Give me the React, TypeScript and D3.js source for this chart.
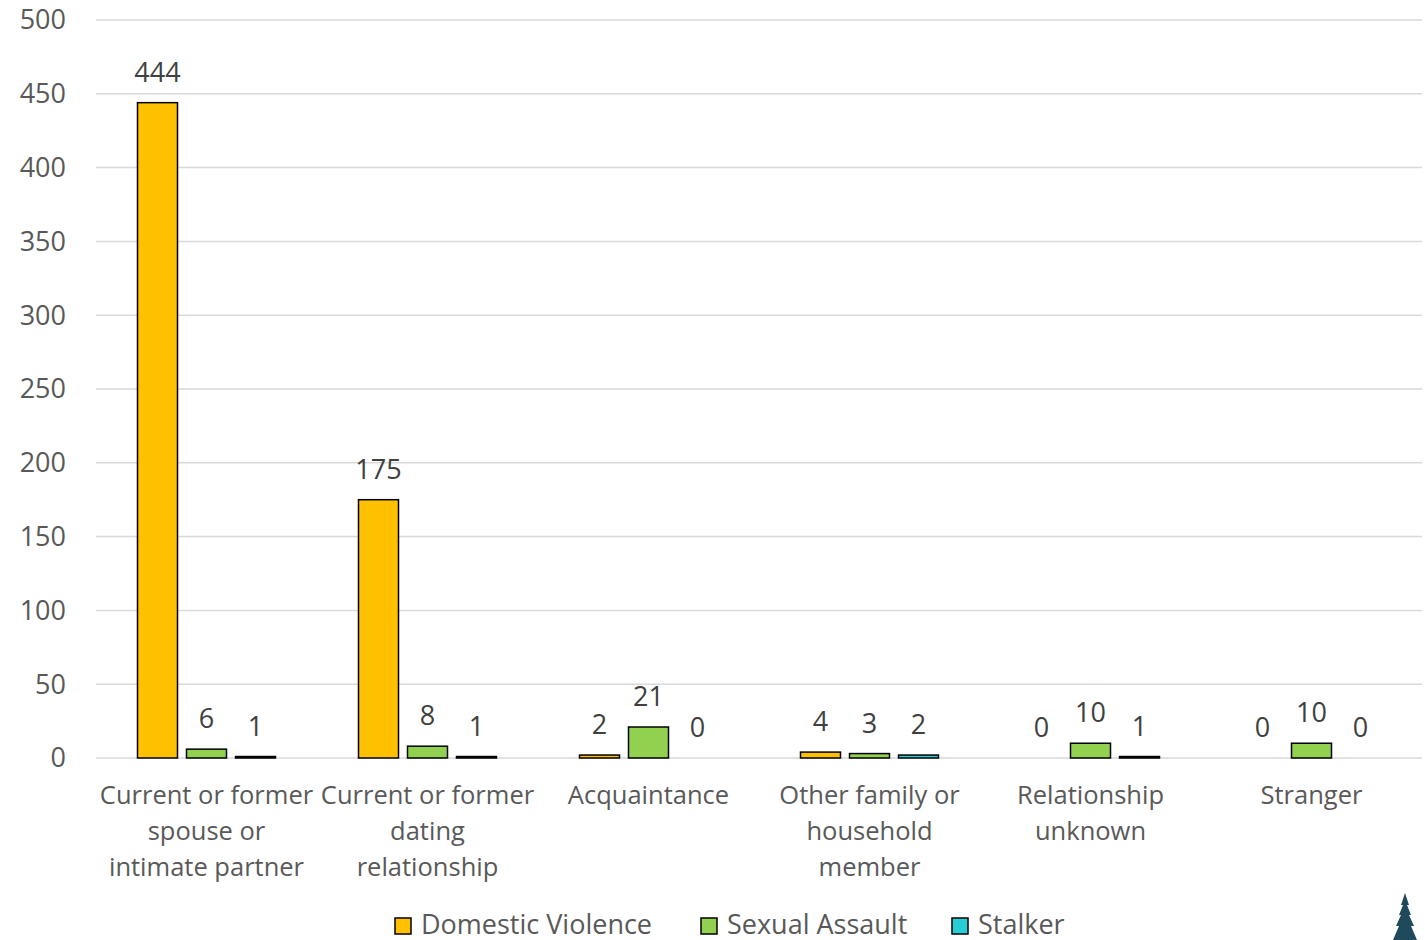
import React from 'react';
import * as d3 from 'd3';

const categories = [
  ['Current or former', 'spouse or', 'intimate partner'],
  ['Current or former', 'dating', 'relationship'],
  ['Acquaintance'],
  ['Other family or', 'household', 'member'],
  ['Relationship', 'unknown'],
  ['Stranger'],
];
const seriesNames = ['Domestic Violence', 'Sexual Assault', 'Stalker'];
const seriesColors = ['#FFC000', '#92D050', '#27CED7'];
const domestic = [444, 175, 2, 4, 0, 0];
const sexual = [6, 8, 21, 3, 10, 10];
const stalker = [1, 1, 0, 2, 1, 0];
const yTicks = [0, 50, 100, 150, 200, 250, 300, 350, 400, 450, 500];

const W = 1425;
const H = 940;
const FONT = "'Open Sans', 'Noto Sans', sans-serif";

const App: React.FC = () => {
  const values = [domestic, sexual, stalker];
  const catIdx = categories.map((_, i) => i);

  const x0 = d3.scaleBand<number>().domain(catIdx).range([96, 1422]).padding(0);
  const x1 = d3.scaleBand<number>().domain([0, 1, 2]).range([-69, 69]).paddingInner(9 / 49).paddingOuter(0);
  const y = d3.scaleLinear().domain([0, 500]).range([758, 20]);

  const groupCenter = (i: number) => (x0(i) ?? 0) + x0.bandwidth() / 2;

  // legend layout
  const legendX = [395, 701, 952];

  return (
    <div style={{ position: 'absolute', left: 0, top: 0 }}>
      <svg width={W} height={H} style={{ display: 'block', background: '#fff' }}>
        {/* gridlines */}
        {yTicks.map(t => (
          <line key={t} x1={96} x2={1422} y1={y(t)} y2={y(t)} stroke="#D9D9D9" strokeWidth={1.5} />
        ))}
        {/* y tick labels */}
        {yTicks.map(t => (
          <text key={t} x={66} y={y(t)} dy="0.35em" textAnchor="end" fontFamily={FONT} fontSize={27} fill="#595959">
            {t}
          </text>
        ))}
        {/* bars */}
        {catIdx.map(ci => (
          <g key={ci} transform={`translate(${groupCenter(ci)},0)`}>
            {values.map((vals, si) => {
              const v = vals[ci];
              const bx = x1(si) ?? 0;
              const bw = x1.bandwidth();
              return (
                <g key={si}>
                  {v > 0 && (
                    <rect x={bx} y={y(v)} width={bw} height={y(0) - y(v)} fill={seriesColors[si]} stroke="#000" strokeWidth={1.5} />
                  )}
                  <text x={bx + bw / 2} y={y(v) - 21} textAnchor="middle" fontFamily={FONT} fontSize={27} fill="#404040">
                    {v}
                  </text>
                </g>
              );
            })}
          </g>
        ))}
        {/* category labels */}
        {catIdx.map(ci => (
          <text key={ci} textAnchor="middle" fontFamily={FONT} fontSize={25.5} fill="#595959">
            {categories[ci].map((line, li) => (
              <tspan key={li} x={groupCenter(ci)} y={804 + li * 36}>
                {line}
              </tspan>
            ))}
          </text>
        ))}
        {/* legend */}
        {seriesNames.map((name, si) => (
          <g key={name} transform={`translate(${legendX[si]},925)`}>
            <rect x={0} y={-7} width={16} height={16} fill={seriesColors[si]} stroke="#000" strokeWidth={1.5} />
            <text x={26} y={0} dy="0.35em" fontFamily={FONT} fontSize={27} fill="#595959">
              {name}
            </text>
          </g>
        ))}
        {/* tree icon */}
        <path
          d="M1405,893 L1409,905 L1407,905 L1411,915 L1409,915 L1414,926 L1411,926 L1417,940 L1393,940 L1399,926 L1396,926 L1401,915 L1399,915 L1403,905 L1401,905 Z"
          fill="#1F4A5C"
        />
      </svg>
    </div>
  );
};

export default App;
